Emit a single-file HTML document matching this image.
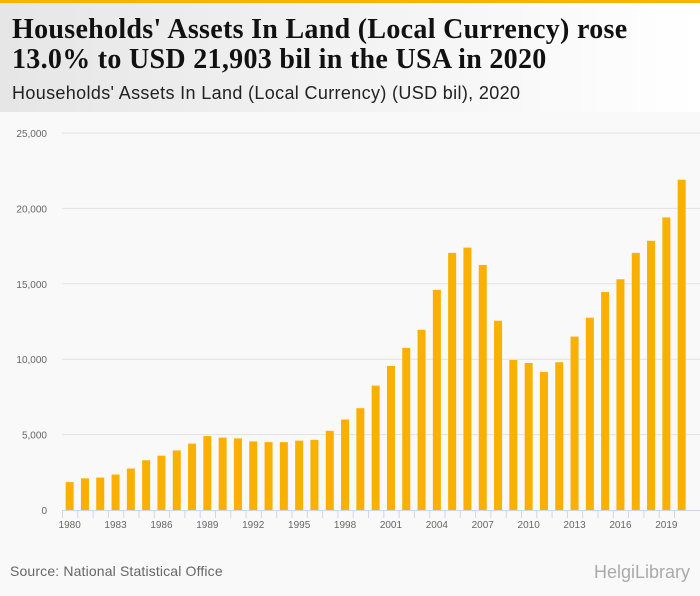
<!DOCTYPE html>
<html><head><meta charset="utf-8"><style>
body{margin:0;width:700px;height:596px;background:#f9f9f9;font-family:"Liberation Sans",sans-serif;overflow:hidden;position:relative}
#hdr{position:absolute;left:0;top:0;width:700px;height:112px;background:linear-gradient(90deg,#e6e6e6,#ffffff);border-top:3px solid #f5b400;box-sizing:border-box}
#t{position:absolute;left:12px;top:12px;font-family:"Liberation Serif",serif;font-weight:bold;font-size:28px;line-height:30px;color:#111;letter-spacing:0.3px}
#st{position:absolute;left:12px;top:80px;font-size:18px;color:#222;letter-spacing:0.35px}
#src{position:absolute;left:10px;top:563px;font-size:14px;color:#666;letter-spacing:0.15px}
#logo{position:absolute;right:10px;top:562px;font-size:18px;color:#aaa}
</style></head><body>
<div id="hdr">
<div id="t">Households' Assets In Land (Local Currency) rose<br>13.0% to USD 21,903 bil in the USA in 2020</div>
<div id="st">Households' Assets In Land (Local Currency) (USD bil), 2020</div>
</div>
<svg id="c" width="700" height="596" style="position:absolute;left:0;top:0"></svg>
<div id="src">Source: National Statistical Office</div>
<div id="logo">HelgiLibrary</div>
<script>
const years=[1980,1981,1982,1983,1984,1985,1986,1987,1988,1989,1990,1991,1992,1993,1994,1995,1996,1997,1998,1999,2000,2001,2002,2003,2004,2005,2006,2007,2008,2009,2010,2011,2012,2013,2014,2015,2016,2017,2018,2019,2020];
const values=[1850,2100,2150,2350,2750,3300,3600,3950,4400,4900,4800,4750,4550,4500,4500,4600,4650,5250,6000,6750,8250,9550,10750,11950,14600,17050,17400,16250,12550,9950,9750,9150,9800,11500,12750,14450,15300,17050,17850,19400,21903];
const yTicks=[0,5000,10000,15000,20000,25000];
const NS="http://www.w3.org/2000/svg",svg=document.getElementById('c');
const x0=62,band=15.3,y0=510,yTop=133,yMax=25000;
const ys=v=>y0-(v/yMax)*(y0-yTop);
const xs=i=>x0+band*i;
function mk(t,a,txt){const e=document.createElementNS(NS,t);for(const k in a)e.setAttribute(k,a[k]);if(txt!=null)e.textContent=txt;svg.appendChild(e);return e;}
yTicks.forEach(v=>{
 if(v>0){const g=mk('line',{x1:x0,x2:700,y1:ys(v),y2:ys(v),stroke:'#e2e2e2'});
 
 }
 const t=mk('text',{x:47,y:ys(v)+4,'text-anchor':'end','font-size':10,fill:'#666','font-family':'Liberation Sans, sans-serif'},v.toLocaleString('en-US'));
 
 
});
const ax=mk('line',{x1:x0,x2:700,y1:y0+0.5,y2:y0+0.5,stroke:'#ccd6eb'});


years.forEach((yr,i)=>{
 const tk=mk('line',{x1:xs(i)+0.5,x2:xs(i)+0.5,y1:y0,y2:y0+8,stroke:'#ccd6eb'});
 
 
 const b=mk('rect',{x:xs(i)+band/2-4,y:ys(values[i]),width:8,height:y0-ys(values[i]),fill:'#f9b000'});
 
 
 if(i%3===0){const t=mk('text',{x:xs(i)+band/2,y:y0+18,'text-anchor':'middle','font-size':10,fill:'#666','font-family':'Liberation Sans, sans-serif'},yr);
 
 }
});
</script>
</body></html>
